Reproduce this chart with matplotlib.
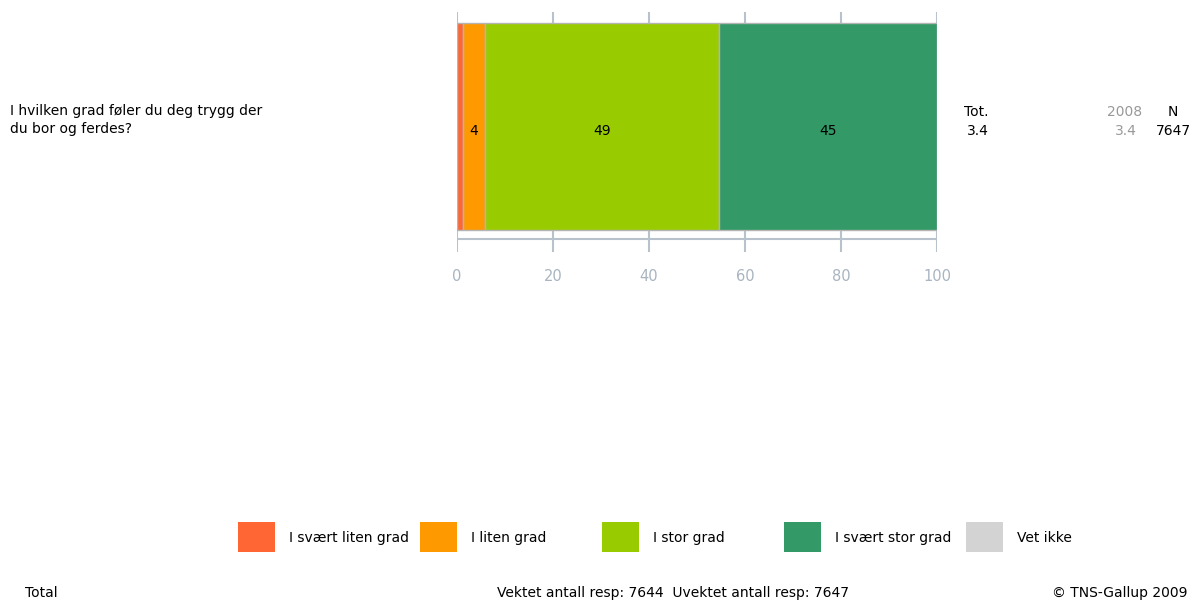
import matplotlib
matplotlib.use("Agg")
from matplotlib import pyplot as plt
from matplotlib.patches import Rectangle

# data
question = "I hvilken grad føler du deg trygg der\ndu bor og ferdes?"
categories = ["I svært liten grad", "I liten grad", "I stor grad", "I svært stor grad", "Vet ikke"]
values = [1.2, 4.6, 48.8, 45.4, 0.0]
labels = ["", "4", "49", "45", ""]
colors = ["#ff6633", "#ff9900", "#99cc00", "#339966", "#d3d3d3"]
ticks = [0, 20, 40, 60, 80, 100]
tot_mean = "3.4"
prev_year = "2008"
prev_mean = "3.4"
n_resp = "7647"
weighted = 7644
unweighted = 7647

W, H = 1199, 602
fig = plt.figure(figsize=(W / 100, H / 100), dpi=100)
plt.rcParams['font.family'] = ['DejaVu Sans']
FS = 10


def fx(px):
    return px / W


def fy(py):
    return 1 - py / H


grid_col = "#b8c2cc"
ax = fig.add_axes([fx(457), fy(252), fx(937) - fx(457), fy(12) - fy(252)])
ax.set_xlim(0, 100)
ax.set_ylim(252, 12)  # pixel-like vertical scale
for t in ticks:
    ax.axvline(t, color=grid_col, lw=1.5, zorder=0)
ax.axhline(239, color=grid_col, lw=1.5, zorder=0)

left = 0
for v, lab, c in zip(values, labels, colors):
    if v > 0:
        ax.barh(126.5, v, left=left, height=207, color=c, edgecolor="#b4b4b4",
                lw=1, zorder=2)
        if lab:
            ax.text(left + v / 2, 131, lab, ha="center", va="center", fontsize=FS,
                    color="black", zorder=3)
    left += v

for s in ax.spines.values():
    s.set_visible(False)
ax.set_yticks([])
ax.set_xticks(ticks)
ax.tick_params(axis="x", length=0, pad=12, labelsize=10.5, labelcolor="#a8b4c0")

# question text
fig.text(fx(10), fy(120), question, ha="left", va="center", fontsize=FS,
         linespacing=1.45)

# right side summary
fig.text(fx(964), fy(112), "Tot.", ha="left", va="center", fontsize=FS)
fig.text(fx(967), fy(131), tot_mean, ha="left", va="center", fontsize=FS)
fig.text(fx(1142), fy(112), prev_year, ha="right", va="center", fontsize=FS, color="#999999")
fig.text(fx(1137), fy(131), prev_mean, ha="right", va="center", fontsize=FS, color="#999999")
fig.text(fx(1173), fy(112), "N", ha="center", va="center", fontsize=FS)
fig.text(fx(1191), fy(131), n_resp, ha="right", va="center", fontsize=FS)

# legend
for i, (cat, c) in enumerate(zip(categories, colors)):
    x0 = 238 + i * 182
    fig.add_artist(Rectangle((fx(x0), fy(552)), fx(37), fy(522) - fy(552),
                             transform=fig.transFigure, facecolor=c, edgecolor="none"))
    fig.text(fx(x0 + 51), fy(538), cat, ha="left", va="center", fontsize=FS)

# footer
fig.text(fx(25), fy(593), "Total", ha="left", va="center", fontsize=FS)
fig.text(fx(673), fy(593), "Vektet antall resp: %d  Uvektet antall resp: %d" % (weighted, unweighted),
         ha="center", va="center", fontsize=FS)
fig.text(fx(1187), fy(593), "© TNS-Gallup 2009", ha="right", va="center", fontsize=FS)

fig.savefig("out.png", dpi=100)
